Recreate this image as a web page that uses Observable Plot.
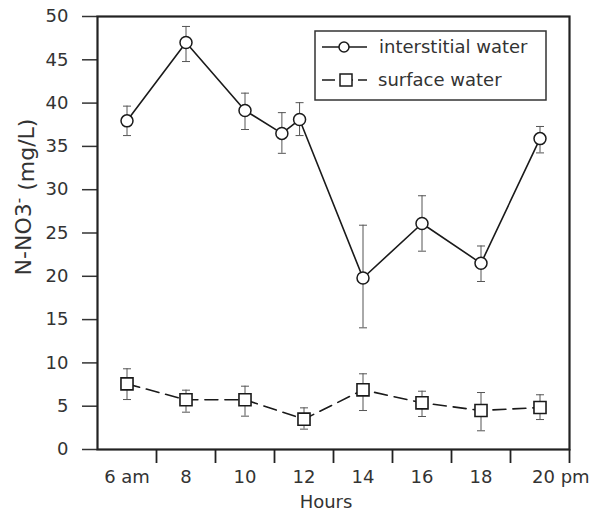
<!DOCTYPE html>
<html>
<head>
<meta charset="utf-8">
<script src="https://cdn.jsdelivr.net/npm/d3@7"></script>
<script src="https://cdn.jsdelivr.net/npm/@observablehq/plot@0.6"></script>
<style>
  html, body { margin: 0; padding: 0; background: white; }
  svg { display: block; }
</style>
</head>
<body>
<div id="chart"></div>
<script>
// ---- data ----
const hoursInterstitial = [6, 8, 10, 11.25, 11.85, 14, 16, 18, 20];
const interstitial      = [37.95, 47.0, 39.15, 36.5, 38.1, 19.8, 26.1, 21.5, 35.9];
const interstitialLo    = [36.25, 44.8, 36.95, 34.2, 36.25, 14.05, 22.9, 19.4, 34.25];
const interstitialHi    = [39.65, 48.85, 41.15, 38.9, 40.05, 25.9, 29.3, 23.5, 37.3];

const hoursSurface = [6, 8, 10, 12, 14, 16, 18, 20];
const surface      = [7.58, 5.74, 5.74, 3.5, 6.89, 5.39, 4.5, 4.85];
const surfaceLo    = [5.77, 4.31, 3.85, 2.35, 4.5, 3.81, 2.16, 3.46];
const surfaceHi    = [9.32, 6.85, 7.31, 4.81, 8.74, 6.73, 6.58, 6.32];

const yTicks = [0, 5, 10, 15, 20, 25, 30, 35, 40, 45, 50];
const xTickMarks = [7, 9, 11, 13, 15, 17, 19, 21];
const xLabelHours = [6, 8, 10, 12, 14, 16, 18, 20];
const xLabels = ["6 am", "8", "10", "12", "14", "16", "18", "20 pm"];

const seriesNames = ["interstitial water", "surface water"];

// ---- tables ----
const interData = hoursInterstitial.map((h, i) => ({h, v: interstitial[i], lo: interstitialLo[i], hi: interstitialHi[i]}));
const surfData = hoursSurface.map((h, i) => ({h, v: surface[i], lo: surfaceLo[i], hi: surfaceHi[i]}));
const labelData = xLabelHours.map((h, i) => ({h, t: xLabels[i]}));
const lastLabel = labelData.slice(-1);
const mainLabels = labelData.slice(0, -1);

const cap = { draw(ctx) { ctx.moveTo(-4, 0); ctx.lineTo(4, 0); } };
const errCol = "#555";
const ink = "#1a1a1a";
const FONT = "DejaVu Sans";

const plot = Plot.plot({
  width: 594,
  height: 521,
  marginTop: 16,
  marginBottom: 72,
  marginLeft: 97,
  marginRight: 25,
  style: { fontFamily: FONT, fontSize: "18px", color: "#333", background: "white", overflow: "visible" },
  x: { domain: [5, 21] },
  y: { domain: [0, 50] },
  marks: [
    Plot.axisY({ ticks: yTicks, tickSize: 15, tickPadding: 14, label: null, stroke: "#333", strokeWidth: 1.5, fill: "#333" }),
    Plot.axisX({ ticks: xTickMarks, tickSize: 14, tickFormat: () => "", label: null, stroke: "#222", strokeWidth: 1.8 }),
    Plot.text(mainLabels, { x: "h", text: "t", frameAnchor: "bottom", dy: 33, fill: "#333", fontSize: 18 }),
    Plot.text(lastLabel, { x: "h", text: "t", frameAnchor: "bottom", dy: 33, dx: -8, textAnchor: "start", fill: "#333", fontSize: 18 }),
    Plot.frame({ stroke: "#222", strokeWidth: 2.2 }),
    // error bars
    Plot.ruleX(interData, { x: "h", y1: "lo", y2: "hi", stroke: errCol, strokeWidth: 1 }),
    Plot.dot(interData, { x: "h", y: "lo", symbol: cap, stroke: errCol, strokeWidth: 1, fill: "none" }),
    Plot.dot(interData, { x: "h", y: "hi", symbol: cap, stroke: errCol, strokeWidth: 1, fill: "none" }),
    Plot.ruleX(surfData, { x: "h", y1: "lo", y2: "hi", stroke: errCol, strokeWidth: 1 }),
    Plot.dot(surfData, { x: "h", y: "lo", symbol: cap, stroke: errCol, strokeWidth: 1, fill: "none" }),
    Plot.dot(surfData, { x: "h", y: "hi", symbol: cap, stroke: errCol, strokeWidth: 1, fill: "none" }),
    // lines
    Plot.line(interData, { x: "h", y: "v", stroke: ink, strokeWidth: 1.6 }),
    Plot.line(surfData, { x: "h", y: "v", stroke: ink, strokeWidth: 1.6, strokeDasharray: "13,7" }),
    // markers
    Plot.dot(interData, { x: "h", y: "v", r: 6, fill: "white", stroke: ink, strokeWidth: 1.5 }),
    Plot.dot(surfData, { x: "h", y: "v", r: 6.8, symbol: "square", fill: "white", stroke: ink, strokeWidth: 1.6 })
  ]
});

const svg = d3.select(plot);

// y label
const yl = svg.append("text")
  .attr("transform", "translate(31,197) rotate(-90)")
  .attr("text-anchor", "middle")
  .attr("font-family", FONT)
  .attr("font-size", 22)
  .attr("fill", "#333");
yl.append("tspan").text("N-NO3");
yl.append("tspan").attr("dy", "-0.45em").attr("font-size", 15).text("-");
yl.append("tspan").attr("dy", "0.45em").text(" (mg/L)");

// x label
svg.append("text")
  .attr("x", 326).attr("y", 508)
  .attr("text-anchor", "middle")
  .attr("font-family", FONT)
  .attr("font-size", 18)
  .attr("fill", "#333")
  .text("Hours");

// legend
const lg = svg.append("g").attr("font-family", FONT).attr("font-size", 18).attr("fill", "#333").attr("text-anchor", "start");
lg.append("rect").attr("x", 315).attr("y", 31).attr("width", 231).attr("height", 69)
  .attr("fill", "white").attr("stroke", "#333").attr("stroke-width", 1.5);
lg.append("line").attr("x1", 322).attr("x2", 367).attr("y1", 47).attr("y2", 47).attr("stroke", ink).attr("stroke-width", 1.6);
lg.append("circle").attr("cx", 344).attr("cy", 47).attr("r", 5).attr("fill", "white").attr("stroke", ink).attr("stroke-width", 1.5);
lg.append("text").attr("x", 379).attr("y", 47).attr("dy", "0.35em").attr("text-anchor", "start").text(seriesNames[0]);
lg.append("line").attr("x1", 322).attr("x2", 367).attr("y1", 80).attr("y2", 80).attr("stroke", ink).attr("stroke-width", 1.6).attr("stroke-dasharray", "13,5");
lg.append("rect").attr("x", 340).attr("y", 74).attr("width", 12).attr("height", 12).attr("fill", "white").attr("stroke", ink).attr("stroke-width", 1.5);
lg.append("text").attr("x", 378).attr("y", 80).attr("dy", "0.35em").attr("text-anchor", "start").text(seriesNames[1]);

document.getElementById("chart").appendChild(plot);
</script>
</body>
</html>
